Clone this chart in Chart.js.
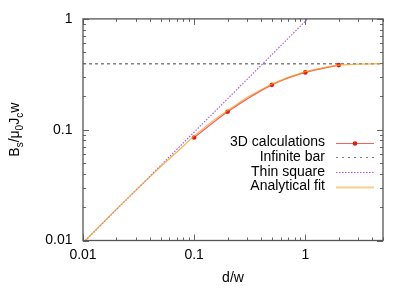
<!DOCTYPE html>
<html><head><meta charset="utf-8">
<script src="https://cdn.jsdelivr.net/npm/chart.js@4.4.1/dist/chart.umd.min.js"></script>
<style>html,body{margin:0;padding:0;background:#fff}canvas{display:block}</style>
</head><body>
<canvas id="c" width="412" height="289"></canvas>
<script>
const FONT = '"Liberation Sans", Arial, Helvetica, sans-serif';

// ---- data ----
const xTickValues = [0.01, 0.1, 1];
const xTickLabels = ['0.01', '0.1', '1'];
const yTickValues = [0.01, 0.1, 1];
const yTickLabels = ['0.01', '0.1', '1'];
const seriesNames = ['3D calculations', 'Infinite bar', 'Thin square', 'Analytical fit'];

const calcD = [0.1, 0.2, 0.5, 1, 2];
const calcB = [0.085, 0.145, 0.254, 0.329, 0.383];

const barD = [0.01, 5];
const barB = [0.393, 0.393];

const squareD = [0.01, 1.05];
const squareB = [0.0095, 1.0];

const fitD = [0.0105, 0.02, 0.03, 0.05, 0.07, 0.1, 0.15, 0.2, 0.3, 0.5, 0.7, 1, 1.5, 2, 3, 4, 5];
const fitB = [0.0100, 0.0192, 0.0285, 0.0465, 0.063, 0.088, 0.122, 0.149, 0.196, 0.258, 0.297, 0.334, 0.366, 0.382, 0.391, 0.393, 0.394];

const pts = (xs, ys) => xs.map((x, i) => ({x: x, y: ys[i]}));

const COLORS = {
  calcLine: '#f26262', calcPoint: '#e41a0a',
  bar: '#444444', square: '#a952e6', fit: 'rgba(244,160,36,0.8)', fitLegend: 'rgba(244,176,60,0.6)'
};

const frame = {
  id: 'frame',
  afterDraw(chart) {
    const ctx = chart.ctx, a = chart.chartArea, xs = chart.scales.x, ys = chart.scales.y;
    ctx.save();
    ctx.strokeStyle = '#666';
    ctx.lineWidth = 1;
    const majL = 6, minL = 3;
    ctx.beginPath();
    for (const dec of [0.01, 0.1, 1]) {
      for (let k = 1; k <= 9; k++) {
        const v = dec * k;
        if (v < 0.01 || v > 5.0001) continue;
        const len = k === 1 ? majL : minL;
        const px = Math.round(xs.getPixelForValue(v)) + 0.5;
        ctx.moveTo(px, a.bottom); ctx.lineTo(px, a.bottom - len);
        ctx.moveTo(px, a.top); ctx.lineTo(px, a.top + len);
      }
      for (let k = 1; k <= 9; k++) {
        const v = dec * k;
        if (v > 1.0001) continue;
        const len = k === 1 ? majL : minL;
        const py = Math.round(ys.getPixelForValue(v)) + 0.5;
        ctx.moveTo(a.left, py); ctx.lineTo(a.left + len, py);
        ctx.moveTo(a.right, py); ctx.lineTo(a.right - len, py);
      }
    }
    ctx.stroke();
    ctx.strokeStyle = '#555';
    ctx.lineWidth = 1.3;
    ctx.strokeRect(a.left, a.top, a.right - a.left, a.bottom - a.top);

    // legend
    ctx.font = '14px ' + FONT;
    ctx.fillStyle = '#000';
    ctx.textAlign = 'right';
    ctx.textBaseline = 'middle';
    const tx = 325, sx0 = 336, sx1 = 374, row0 = 142.5, dy = 14.7;
    seriesNames.forEach((name, i) => {
      const yy = row0 + i * dy;
      ctx.fillText(name, tx, yy);
      ctx.save();
      ctx.beginPath();
      if (i === 0) { ctx.strokeStyle = COLORS.calcLine; ctx.lineWidth = 1.2; }
      if (i === 1) { ctx.strokeStyle = '#777'; ctx.lineWidth = 1; ctx.setLineDash([2, 4]); }
      if (i === 2) { ctx.strokeStyle = COLORS.square; ctx.lineWidth = 1; ctx.setLineDash([1.5, 1.5]); }
      if (i === 3) { ctx.strokeStyle = COLORS.fitLegend; ctx.lineWidth = 2; }
      ctx.moveTo(sx0, Math.round(yy) + 0.5); ctx.lineTo(sx1, Math.round(yy) + 0.5);
      ctx.stroke();
      if (i === 0) {
        ctx.fillStyle = COLORS.calcPoint;
        ctx.beginPath(); ctx.arc((sx0 + sx1) / 2, Math.round(yy) + 0.5, 2.3, 0, Math.PI * 2); ctx.fill();
      }
      ctx.restore();
    });

    // x title
    ctx.textAlign = 'center';
    ctx.fillText('d/w', (a.left + a.right) / 2, 278);

    // y title with subscripts, rotated
    const parts = [['B', 0], ['s', 1], ['/\u03bc', 0], ['0', 1], ['J', 0], ['c', 1], ['w', 0]];
    const mainF = '14px ' + FONT, subF = '10px ' + FONT;
    let total = 0;
    parts.forEach(p => { ctx.font = p[1] ? subF : mainF; total += ctx.measureText(p[0]).width; });
    ctx.translate(18.5, (a.top + a.bottom) / 2);
    ctx.rotate(-Math.PI / 2);
    ctx.textAlign = 'left';
    ctx.textBaseline = 'alphabetic';
    let cx = -total / 2;
    parts.forEach(p => {
      ctx.font = p[1] ? subF : mainF;
      ctx.fillText(p[0], cx, p[1] ? 4 : 0);
      cx += ctx.measureText(p[0]).width;
    });
    ctx.restore();
  }
};

new Chart(document.getElementById('c'), {
  type: 'scatter',
  data: {
    datasets: [
      { label: seriesNames[3], data: pts(fitD, fitB), showLine: true, borderColor: COLORS.fit, borderWidth: 1.2,
        pointRadius: 0, order: 0 },
      { label: seriesNames[0], data: pts(calcD, calcB), showLine: true, borderColor: COLORS.calcLine, borderWidth: 1.2,
        cubicInterpolationMode: 'monotone', pointRadius: 2.3, pointBackgroundColor: COLORS.calcPoint,
        pointBorderWidth: 0, order: 1 },
      { label: seriesNames[2], data: pts(squareD, squareB), showLine: true, borderColor: COLORS.square, borderWidth: 1.1,
        borderDash: [1.5, 1.5], pointRadius: 0, order: 2 },
      { label: seriesNames[1], data: pts(barD, barB), showLine: true, borderColor: COLORS.bar, borderWidth: 1,
        borderDash: [3, 3], pointRadius: 0, order: 3 }
    ]
  },
  options: {
    responsive: false,
    animation: false,
    devicePixelRatio: 1,
    layout: { padding: { left: 0, top: 17.5, right: 29, bottom: 0 } },
    plugins: { legend: { display: false }, tooltip: { enabled: false } },
    scales: {
      x: {
        type: 'logarithmic', min: 0.01, max: 5,
        grid: { display: false, drawTicks: false }, border: { display: false },
        afterBuildTicks: s => { s.ticks = xTickValues.map(v => ({ value: v })); },
        afterFit: s => { s.height = 48.5; },
        ticks: {
          autoSkip: false, maxRotation: 0, padding: 6, color: '#000',
          font: { family: FONT, size: 14 },
          callback: (v) => { const i = xTickValues.indexOf(v); return i >= 0 ? xTickLabels[i] : ''; }
        }
      },
      y: {
        type: 'logarithmic', min: 0.01, max: 1,
        grid: { display: false, drawTicks: false }, border: { display: false },
        afterBuildTicks: s => { s.ticks = yTickValues.map(v => ({ value: v })); },
        afterFit: s => { s.width = 83; },
        ticks: {
          autoSkip: false, padding: 10.5, color: '#000',
          font: { family: FONT, size: 14 },
          callback: (v) => { const i = yTickValues.indexOf(v); return i >= 0 ? yTickLabels[i] : ''; }
        }
      }
    }
  },
  plugins: [frame]
});
</script>
</body></html>
